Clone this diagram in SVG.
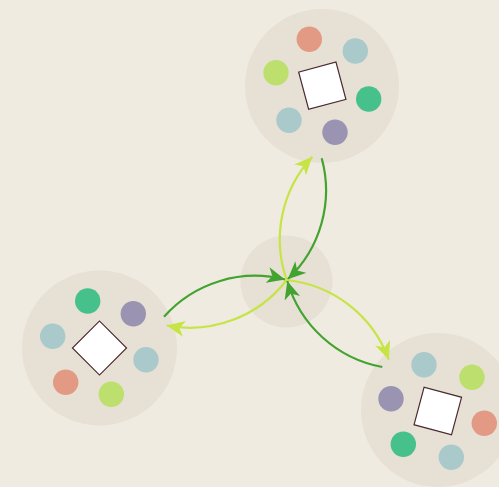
<svg xmlns="http://www.w3.org/2000/svg" width="499" height="487" viewBox="0 0 499 487">
<style>
.bg{fill:#efebe1}
.node{fill:#e7e0d5}
.sq{fill:#ffffff;stroke:#4a2a30;stroke-width:1.2}
.s{fill:#e39a84}.b{fill:#a9c9cb}.l{fill:#bddf6d}.g{fill:#46c18b}.p{fill:#9a93b2}
.dg{fill:none;stroke:#43a32f;stroke-width:2.2}
.lg{fill:none;stroke:#c6e445;stroke-width:2.2}
</style>
<defs>
<marker id="ah-dg" markerUnits="userSpaceOnUse" markerWidth="18" markerHeight="16" viewBox="0 -8 18 16" refX="18" refY="0" orient="auto"><path d="M0,-8L18,0L0,8L5,0Z" fill="#43a32f"/></marker>
<marker id="ah-lg" markerUnits="userSpaceOnUse" markerWidth="18" markerHeight="16" viewBox="0 -8 18 16" refX="18" refY="0" orient="auto"><path d="M0,-8L18,0L0,8L5,0Z" fill="#c6e445"/></marker>
</defs>
<rect class="bg" x="0" y="0" width="499" height="487"/>
<g id="center"><circle class="node" cx="286.5" cy="281.5" r="46"/></g>
<g id="node-top">
<circle class="node" cx="322" cy="86" r="77"/>
<rect class="sq" x="-19.3" y="-19.3" width="38.6" height="38.6" transform="translate(322.3,85.7) rotate(-15)"/>
<circle class="s" cx="309.3" cy="39.3" r="12.7"/>
<circle class="b" cx="355.3" cy="51" r="12.7"/>
<circle class="l" cx="276" cy="72.7" r="12.7"/>
<circle class="g" cx="368.7" cy="99" r="12.7"/>
<circle class="b" cx="289" cy="120.3" r="12.7"/>
<circle class="p" cx="335" cy="132.3" r="12.7"/>
</g>
<g id="node-left">
<circle class="node" cx="99.5" cy="348" r="77.5"/>
<rect class="sq" x="-19.1" y="-19.1" width="38.2" height="38.2" transform="translate(99.5,348) rotate(45)"/>
<circle class="g" cx="87.7" cy="301" r="12.7"/>
<circle class="p" cx="133.3" cy="313.7" r="12.7"/>
<circle class="b" cx="52.7" cy="336.3" r="12.7"/>
<circle class="b" cx="146" cy="359.7" r="12.7"/>
<circle class="s" cx="65.7" cy="382.3" r="12.7"/>
<circle class="l" cx="111.3" cy="394.3" r="12.7"/>
</g>
<g id="node-br">
<circle class="node" cx="438" cy="410" r="77"/>
<rect class="sq" x="-19.4" y="-19.4" width="38.8" height="38.8" transform="translate(437.8,411) rotate(15)"/>
<circle class="b" cx="424" cy="364.7" r="12.7"/>
<circle class="l" cx="472" cy="377.3" r="12.7"/>
<circle class="p" cx="391" cy="398.7" r="12.7"/>
<circle class="s" cx="484.3" cy="423.3" r="12.7"/>
<circle class="g" cx="403.3" cy="444.3" r="12.7"/>
<circle class="b" cx="451.3" cy="457.3" r="12.7"/>
</g>
<g id="connectors">
<path class="dg" marker-end="url(#ah-dg)" d="M321.7,158.3A122,122 0 0,1 287.7,279.3"/>
<path class="lg" marker-end="url(#ah-lg)" d="M286.7,280A122,122 0 0,1 312.3,156.7"/>
<path class="dg" marker-end="url(#ah-dg)" d="M164,316.7A122,122 0 0,1 285,279.5"/>
<path class="lg" marker-end="url(#ah-lg)" d="M286.7,280A122,122 0 0,1 166.7,325.5"/>
<path class="lg" marker-end="url(#ah-lg)" d="M286.7,280A122,122 0 0,1 388.8,359.6"/>
<path class="dg" marker-end="url(#ah-dg)" d="M382.3,367A122,122 0 0,1 287.3,281"/>
</g>
</svg>
